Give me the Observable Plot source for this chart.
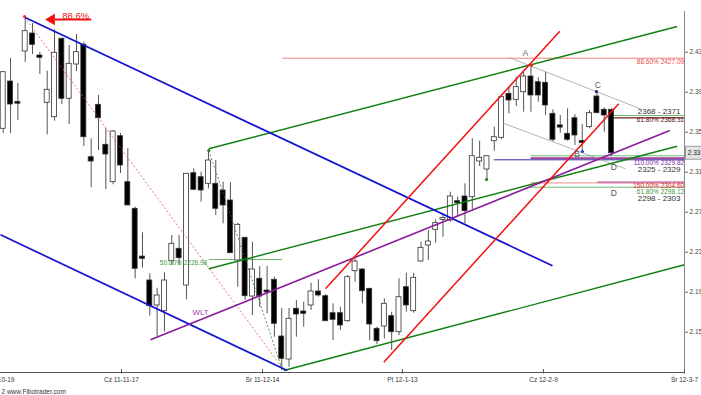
<!DOCTYPE html>
<html>
<head>
<meta charset="utf-8">
<script src="https://cdn.jsdelivr.net/npm/d3@7"></script>
<script src="https://cdn.jsdelivr.net/npm/@observablehq/plot@0.6"></script>
<style>
  html, body { margin: 0; padding: 0; background: #fff; overflow: hidden; }
  #chart svg { display: block; }
</style>
</head>
<body>
<div id="chart"></div>
<script>
// ---- Candles (price) ----
const open  = [2.3534,2.4007,2.3797,2.4307,2.4487,2.4267,2.3794,2.3650,2.4434,2.3834,2.4177,2.4374,2.3250,2.3774,2.3374,2.3000,2.3460,2.3000,2.2734,2.2250,
               2.2017,2.1767,2.1710,2.2210,2.2334,2.1967,2.3090,2.3050,2.2984,2.2984,2.2917,2.2817,2.2217,2.2444,2.1857,2.2034,2.1917,2.2024,2.1457,2.1227,
               2.1734,2.1707,2.1767,2.1907,2.1860,2.1690,2.1690,2.1610,2.2110,2.2127,2.1934,2.1534,2.1557,2.1660,2.1500,2.1950,2.1710,2.2207,2.2367,2.2524,
               2.2629,2.2617,2.2810,2.2857,2.2850,2.3207,2.3127,2.3410,2.3444,2.3884,2.3824,2.3900,2.4057,2.4000,2.3994,2.3684,2.3562,2.3484,2.3640,2.3407,
               2.3550,2.3857,2.3724,2.3724];
const high  = [2.4100,2.4237,2.3987,2.4657,2.4587,2.4297,2.4110,2.4524,2.4440,2.4367,2.4477,2.4400,2.3434,2.3867,2.3534,2.3517,2.3487,2.3337,2.2750,2.2494,
               2.2084,2.1940,2.2094,2.2467,2.2467,2.3084,2.3134,2.3100,2.3317,2.3217,2.3000,2.2997,2.2587,2.2447,2.2400,2.2157,2.2157,2.2050,2.1737,2.1737,
               2.1817,2.1800,2.1990,2.2024,2.1877,2.1784,2.1750,2.2067,2.2234,2.2134,2.1934,2.1550,2.1834,2.1700,2.2034,2.2090,2.2090,2.2400,2.2517,2.2624,
               2.2684,2.2900,2.2850,2.2984,2.3434,2.3410,2.3260,2.3550,2.3867,2.3950,2.4050,2.4100,2.4167,2.4044,2.4100,2.3724,2.3667,2.3734,2.3677,2.3577,
               2.3717,2.3910,2.3744,2.3734];
const low   = [2.3487,2.3487,2.3617,2.4197,2.4277,2.4077,2.3474,2.3610,2.3777,2.3577,2.4107,2.3357,2.2944,2.3317,2.2927,2.2974,2.3087,2.2767,2.2034,2.2140,
               2.1660,2.1457,2.1500,2.2167,2.2167,2.1824,2.2917,2.2800,2.2934,2.2667,2.2584,2.2287,2.1950,2.1817,2.1667,2.1750,2.1684,2.1450,2.1117,2.1150,
               2.1450,2.1550,2.1717,2.1850,2.1607,2.1417,2.1517,2.1600,2.2000,2.1784,2.1417,2.1377,2.1434,2.1317,2.1467,2.1700,2.1690,2.2200,2.2217,2.2390,
               2.2450,2.2600,2.2650,2.2584,2.2724,2.3157,2.3017,2.3310,2.3424,2.3684,2.3757,2.3700,2.3700,2.3800,2.3667,2.3400,2.3490,2.3410,2.3367,2.3310,
               2.3534,2.3690,2.3500,2.3257];
const close = [2.4100,2.3777,2.3791,2.4510,2.4374,2.4244,2.3924,2.4294,2.3834,2.4184,2.4300,2.3450,2.3207,2.3640,2.3277,2.3507,2.3167,2.2767,2.2134,2.2240,
               2.1760,2.1867,2.2017,2.2384,2.2240,2.3084,2.2924,2.2917,2.3217,2.2734,2.2767,2.2290,2.2574,2.1860,2.2127,2.1857,2.1897,2.1584,2.1234,2.1634,
               2.1677,2.1684,2.1907,2.1867,2.1610,2.1624,2.1567,2.2050,2.2207,2.1910,2.1577,2.1410,2.1784,2.1500,2.1850,2.1767,2.2044,2.2344,2.2407,2.2590,
               2.2637,2.2857,2.2790,2.2710,2.3260,2.3244,2.3260,2.3450,2.3850,2.3817,2.3950,2.4057,2.3867,2.3867,2.3767,2.3424,2.3552,2.3424,2.3467,2.3397,
               2.3690,2.3690,2.3667,2.3290];

// ---- Axis ticks ----
const yTicks = [2.15, 2.19, 2.23, 2.27, 2.31, 2.35, 2.39, 2.43];
const xTickPos = [-0.78, 16.14, 35.38, 54.47, 73.71, 92.95];
const xTickLabels = ["Śr 11-10-19", "Cz 11-11-17", "Śr 11-12-14", "Pt 12-1-13", "Cz 12-2-9", "Śr 12-3-7"];

// ---- Drawn trendlines (bar index, price) ----
const blueLines   = [[2.91, 2.4650, 74.94, 2.2164], [-0.37, 2.2474, 38.75, 2.1117]];
const greenLines  = [[28.05, 2.3334, 91.95, 2.4557], [28.05, 2.2134, 91.95, 2.3360], [38.28, 2.1117, 92.95, 2.2174]];
const redLines    = [[43.97, 2.1934, 75.94, 2.4510], [51.92, 2.1200, 83.98, 2.3784]];
const purpleLines = [[20.10, 2.1424, 90.94, 2.3517]];
const grayLines   = [[69.11, 2.4244, 86.94, 2.3734], [68.21, 2.3590, 84.90, 2.3134]];
const redDotted   = [[2.91, 2.4650, 38.24, 2.1127]];
const greenDotted = [[28.05, 2.3317, 38.06, 2.1127]];

// ---- Fibonacci horizontal levels [x1, x2, price] ----
const fibRed     = [[38.06, 92.95, 2.4240]];
const fibGreen   = [[83.08, 92.95, 2.3667], [71.94, 92.95, 2.3264], [71.94, 92.95, 2.2950], [28.05, 38.06, 2.2227]];
const fibMaroon  = [[83.08, 92.95, 2.3644]];
const fibPurple  = [[71.94, 92.95, 2.3239]];
const fibNavy    = [[66.93, 92.95, 2.3224]];
const fibPink    = [[71.94, 92.95, 2.2994]];
const fibPinkBold= [[81.04, 92.95, 2.3000]];

// ---- Labels ----
const fibLabels = [
  {t: "88.60% 2427.09",  y: 2.4207, c: "#f04a4a"},
  {t: "61.80% 2368.31",  y: 2.3625, c: "#5a1010"},
  {t: "110.00% 2329.82", y: 2.3197, c: "#7a2aa0"},
  {t: "150.00% 2304.60", y: 2.2967, c: "#e02020"},
  {t: "61.80% 2298.12",  y: 2.2900, c: "#3a9a3a"}
];
const zoneLabels = [
  {t: "2368 - 2371", y: 2.3707},
  {t: "2325 - 2329", y: 2.3132},
  {t: "2298 - 2303", y: 2.2834}
];
const pointLabels = [
  {t: "A", x: 71.25, y: 2.4290, c: "#666"},
  {t: "B", x: 78.31, y: 2.3284, c: "#555"},
  {t: "C", x: 81.12, y: 2.3974, c: "#555"},
  {t: "D", x: 83.30, y: 2.3150, c: "#555"},
  {t: "D", x: 83.30, y: 2.2890, c: "#555"}
];
const markerDots = [
  {x: 2.91, y: 2.4657, c: "#f03030"}, {x: 72.07, y: 2.4167, c: "#f03030"},
  {x: 80.94, y: 2.3907, c: "#202080"}, {x: 79.03, y: 2.3307, c: "#2040e0"},
  {x: 65.94, y: 2.3027, c: "#208020"}, {x: 28.05, y: 2.3317, c: "#208020"}
];
const fiftyLabel = {t: "50.00% 2226.98", x: 27.83, y: 2.2190};
const wltLabel = {t: "WLT", x: 26.92, y: 2.1694};
const arrowLabel = {t: "88.6%", x: 8.05, y: 2.4667};
const arrowShaft = [[12.0, 2.4627, 7.0, 2.4627]];
const arrowTip = [[6.6, 2.4627]];

// ---- Build ----
const candles = open.map((o, i) => ({i, o, h: high[i], l: low[i], c: close[i]}));
const segs = a => a.map(([x1, y1, x2, y2]) => ({x1, y1, x2, y2}));
const hseg = a => a.map(([x1, x2, y]) => ({x1, x2, y1: y, y2: y}));
const L = (data, opts) => Plot.link(data, {x1: "x1", y1: "y1", x2: "x2", y2: "y2", ...opts});
const halfW = 0.34;
const minBody = 0.0006;

const font = "'Liberation Sans', Arial, sans-serif";

const chart = Plot.plot({
  width: 701,
  height: 395,
  marginLeft: 0,
  marginRight: 17,
  marginTop: 0,
  marginBottom: 23,
  x: {type: "linear", domain: [-0.37, 92.95], axis: null},
  y: {type: "linear", domain: [2.1097, 2.4817], axis: null},
  style: {fontFamily: font, background: "#fff", overflow: "visible"},
  marks: [
    // fibonacci horizontal levels
    L(hseg(fibRed), {stroke: "#f08080", strokeWidth: 1}),
    L(hseg(fibPink), {stroke: "#f4a0a0", strokeWidth: 1.2}),
    L(hseg(fibPinkBold), {stroke: "#d080b0", strokeWidth: 2}),
    L(hseg(fibGreen), {stroke: "#70b870", strokeWidth: 1}),
    L(hseg(fibMaroon), {stroke: "#702020", strokeWidth: 1.3}),
    L(hseg(fibNavy), {stroke: "#3030a0", strokeWidth: 1}),
    L(hseg(fibPurple), {stroke: "#a040a0", strokeWidth: 2}),
    // wicks
    Plot.ruleX(candles, {x: "i", y1: "l", y2: "h", stroke: "#555", strokeWidth: 1}),
    // bodies
    Plot.rect(candles, {
      x1: d => d.i - halfW, x2: d => d.i + halfW,
      y1: d => Math.min(d.o, d.c) - (Math.abs(d.o - d.c) < 2 * minBody ? minBody : 0),
      y2: d => Math.max(d.o, d.c) + (Math.abs(d.o - d.c) < 2 * minBody ? minBody : 0),
      fill: d => d.c < d.o ? "#000" : "#fff",
      stroke: "#333", strokeWidth: 0.8
    }),
    // dotted retracement lines
    L(segs(redDotted), {stroke: "#e05050", strokeWidth: 0.8, strokeDasharray: "2,2"}),
    L(segs(greenDotted), {stroke: "#208020", strokeWidth: 0.8, strokeDasharray: "2,2"}),
    // gray ABCD channel
    L(segs(grayLines), {stroke: "#a0a0a0", strokeWidth: 0.8}),
    // trend lines
    L(segs(greenLines), {stroke: "#108010", strokeWidth: 1.4}),
    L(segs(blueLines), {stroke: "#1414d0", strokeWidth: 1.7}),
    L(segs(purpleLines), {stroke: "#8a1a9a", strokeWidth: 1.6}),
    L(segs(redLines), {stroke: "#f01010", strokeWidth: 1.5}),
    // marker dots
    Plot.dot(markerDots, {x: "x", y: "y", fill: "c", r: 1.6}),
    // 88.6% arrow
    L(segs(arrowShaft), {stroke: "#f01010", strokeWidth: 2}),
    Plot.dot(arrowTip, {x: d => d[0], y: d => d[1], symbol: "triangle", r: 4.2, rotate: -90, fill: "#f01010"}),
    Plot.text([arrowLabel], {x: "x", y: "y", text: "t", fill: "#f02020", fontSize: 9.5, textAnchor: "start", lineAnchor: "middle"}),
    // labels
    Plot.text([fiftyLabel], {x: "x", y: "y", text: "t", fill: "#3a9a3a", fontSize: 6.5, textAnchor: "end", lineAnchor: "middle"}),
    Plot.text([wltLabel], {x: "x", y: "y", text: "t", fill: "#a040b0", fontSize: 8, textAnchor: "middle", lineAnchor: "middle"}),
    Plot.text(pointLabels, {x: "x", y: "y", text: "t", fill: "c", fontSize: 8.5, textAnchor: "middle", lineAnchor: "middle"}),
    Plot.text(fibLabels, {x: 92.9, y: "y", text: "t", fill: "c", fontSize: 6.5, textAnchor: "end", lineAnchor: "middle"}),
    Plot.text(zoneLabels, {x: 92.4, y: "y", text: "t", fill: "#333", fontSize: 8, textAnchor: "end", lineAnchor: "middle"}),
    // axes
    Plot.ruleY([2.1097], {x1: -0.37, x2: 92.95, stroke: "#555", strokeWidth: 1}),
    Plot.ruleX([92.95], {y1: 2.4707, y2: 2.1097, stroke: "#888", strokeWidth: 1}),
    Plot.axisY({anchor: "right", ticks: yTicks, tickFormat: d3.format(".2f"), tickSize: 3, tickPadding: 2, fontSize: 6.5, stroke: "#666", fill: "#444"}),
    Plot.ruleX(xTickPos, {y1: 2.1127, y2: 2.1082, stroke: "#555", strokeWidth: 1}),
    Plot.text(xTickPos, {x: d => d, text: (d, i) => xTickLabels[i], frameAnchor: "bottom", dy: 7, fontSize: 6.5, fill: "#333", lineAnchor: "middle"}),
    // last price box
    Plot.rect([close[close.length - 1]], {x1: 93.15, x2: 96, y1: d => d - 0.0065, y2: d => d + 0.0065, fill: "#e4e4e4", stroke: "#888", strokeWidth: 0.8}),
    Plot.text([close[close.length - 1]], {x: 93.4, y: d => d, text: d => d3.format(".2f")(d), fontSize: 6.5, fill: "#222", textAnchor: "start", lineAnchor: "middle"}),
    // footer
    Plot.text(["2 www.Fibotrader.com"], {frameAnchor: "bottom-left", text: d => d, dx: 1, dy: 19, fontSize: 6.5, fill: "#333", textAnchor: "start", lineAnchor: "middle"})
  ]
});
document.getElementById("chart").append(chart);
</script>
</body>
</html>
